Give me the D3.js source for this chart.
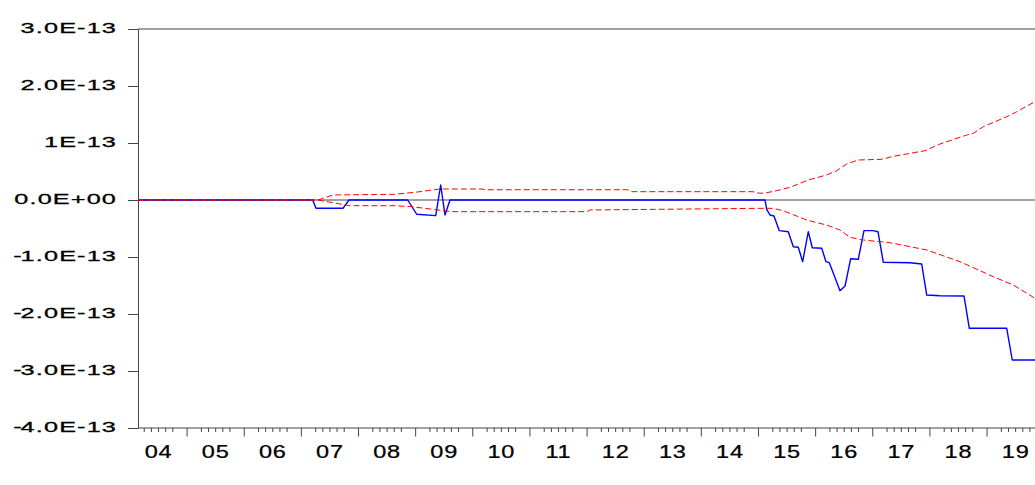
<!DOCTYPE html>
<html>
<head>
<meta charset="utf-8">
<script src="https://cdn.jsdelivr.net/npm/d3@7"></script>
<style>
  html, body { margin: 0; padding: 0; background: #ffffff; overflow: hidden; }
  svg { display: block; }
  text { font-family: "Liberation Sans", Arial, sans-serif; fill: #000; }
</style>
</head>
<body>
<svg id="chart" width="1035" height="485"></svg>
<script>
// ---- data (values in units of 1E-13, time in decimal years) ----
const blueT = [2004.15, 2007.207, 2007.265, 2007.737, 2007.842, 2008.87, 2009.027, 2009.36, 2009.447, 2009.522, 2009.61,
  2015.123, 2015.152, 2015.21, 2015.28, 2015.373, 2015.53, 2015.618, 2015.705, 2015.782, 2015.88, 2015.95, 2016.115,
  2016.19, 2016.248, 2016.435, 2016.523, 2016.622, 2016.755, 2016.855, 2017.013, 2017.1, 2017.193, 2017.66, 2017.865,
  2017.953, 2018.185, 2018.605, 2018.698, 2019.353, 2019.45, 2019.95];
const blueV = [0, 0, -0.146, -0.146, 0, 0, -0.25, -0.275, 0.263, -0.263, 0,
  0, -0.163, -0.263, -0.281, -0.538, -0.556, -0.819, -0.83, -1.082, -0.556, -0.837, -0.847,
  -1.082, -1.1, -1.591, -1.509, -1.03, -1.04, -0.538, -0.538, -0.556, -1.093, -1.1, -1.123,
  -1.667, -1.679, -1.684, -2.251, -2.251, -2.807, -2.807];

const upperT = [2004.15, 2007.3, 2007.56, 2008.645, 2008.995, 2009.435, 2010.17, 2010.223, 2012.72, 2012.79, 2014.91,
  2015.035, 2015.152, 2015.327, 2015.56, 2015.88, 2016.2, 2016.377, 2016.553, 2016.755, 2017.165, 2017.34, 2017.602,
  2017.923, 2018.185, 2018.652, 2018.768, 2018.943, 2019.353, 2019.528, 2019.848];
const upperV = [0, 0, 0.088, 0.10, 0.135, 0.193, 0.193, 0.18, 0.18, 0.146, 0.146,
  0.117, 0.128, 0.163, 0.222, 0.351, 0.439, 0.514, 0.632, 0.702, 0.714, 0.76, 0.807,
  0.865, 0.982, 1.14, 1.17, 1.286, 1.462, 1.549, 1.725];

const lowerT = [2004.15, 2007.3, 2007.86, 2008.645, 2008.94, 2009.4, 2009.64, 2012.007, 2012.06, 2015.035, 2015.263,
  2015.437, 2015.852, 2016.2, 2016.435, 2016.61, 2016.843, 2017.253, 2017.368, 2017.953, 2018.535, 2019.118,
  2019.468, 2019.848];
const lowerV = [0, 0, -0.10, -0.10, -0.117, -0.175, -0.205, -0.205, -0.175, -0.146, -0.146,
  -0.187, -0.351, -0.439, -0.526, -0.654, -0.702, -0.742, -0.76, -0.877, -1.082, -1.345,
  -1.491, -1.725];

const yTickValues = [3, 2, 1, 0, -1, -2, -3, -4];
const yTickLabels = ["3.0E-13", "2.0E-13", "1E-13", "0.0E+00", "-1.0E-13", "-2.0E-13", "-3.0E-13", "-4.0E-13"];
const years = [2004, 2005, 2006, 2007, 2008, 2009, 2010, 2011, 2012, 2013, 2014, 2015, 2016, 2017, 2018, 2019];
const yearLabels = ["04", "05", "06", "07", "08", "09", "10", "11", "12", "13", "14", "15", "16", "17", "18", "19"];

// ---- scales ----
const svg = d3.select("#chart");
const x = d3.scaleLinear().domain([2004, 2020]).range([129.45, 1043.7]);
const y = d3.scaleLinear().domain([-4, 3]).range([428, 29]);
const x0 = x(2004.15), x1 = x(2020);
const axisColor = "#444";

// top frame line
svg.append("line").attr("x1", x0).attr("x2", x1).attr("y1", y(3)).attr("y2", y(3))
  .attr("stroke", axisColor).attr("stroke-width", 1);

// zero line
svg.append("line").attr("x1", x0).attr("x2", x1).attr("y1", y(0)).attr("y2", y(0))
  .attr("stroke", axisColor).attr("stroke-width", 1);

// ---- Y axis ----
const yAxis = svg.append("g").attr("transform", `translate(${x0},0)`)
  .call(d3.axisLeft(y).tickValues(yTickValues).tickFormat((d, i) => yTickLabels[i]).tickSize(10).tickSizeOuter(0));
yAxis.select(".domain").attr("stroke", axisColor);
yAxis.selectAll(".tick line").attr("stroke", axisColor);
yAxis.selectAll(".tick text")
  .attr("x", 0).attr("dy", null)
  .attr("transform", "translate(-21,3.3) scale(1.63,1)")
  .style("font-size", "15.5px").style("letter-spacing", "0.7px")
  .attr("stroke", "#000").attr("stroke-width", 0.3)
  .attr("text-anchor", "end").attr("fill", "#000")
  .each(function () {
    const t = d3.select(this);
    const s = t.text();
    if (s.startsWith("-")) {
      t.text(null);
      t.append("tspan").style("letter-spacing", "-0.6px").text("-");
      t.append("tspan").text(s.slice(1));
    }
  });

// ---- X axis ----
const minorTicks = [];
years.forEach(yr => { for (let k = 2; k <= 6; k++) minorTicks.push(yr + k / 8); });
const xMinor = svg.append("g").attr("transform", `translate(0,${y(-4)})`)
  .call(d3.axisBottom(x).tickValues(minorTicks).tickFormat("").tickSize(4).tickSizeOuter(0));
xMinor.select(".domain").remove();
xMinor.selectAll(".tick line").attr("stroke", axisColor);

const xMajor = svg.append("g").attr("transform", `translate(0,${y(-4)})`)
  .call(d3.axisBottom(x).tickValues(years.slice(1)).tickFormat("").tickSize(8.5).tickSizeOuter(0));
xMajor.select(".domain").remove();
xMajor.selectAll(".tick line").attr("stroke", axisColor);

svg.append("line").attr("x1", x0).attr("x2", x1).attr("y1", y(-4)).attr("y2", y(-4))
  .attr("stroke", axisColor).attr("stroke-width", 1);

const xLab = svg.append("g").attr("transform", `translate(0,${y(-4)})`)
  .call(d3.axisBottom(x).tickValues(years.map(d => d + 0.5)).tickFormat((d, i) => yearLabels[i]).tickSize(0).tickSizeOuter(0));
xLab.select(".domain").remove();
xLab.selectAll(".tick text")
  .attr("y", 0).attr("dy", null)
  .attr("transform", "translate(0,30.3) scale(1.33,1)")
  .style("font-size", "17.7px").style("letter-spacing", "0.6px")
  .attr("stroke", "#000").attr("stroke-width", 0.25)
  .attr("text-anchor", "middle").attr("fill", "#000");

// ---- lines ----
const line = d3.line().x(d => x(d[0])).y(d => y(d[1]));
const blue = blueT.map((t, i) => [t, blueV[i]]);
const upper = upperT.map((t, i) => [t, upperV[i]]);
const lower = lowerT.map((t, i) => [t, lowerV[i]]);

svg.append("path").datum(blue).attr("d", line)
  .attr("fill", "none").attr("stroke", "#0000ff").attr("stroke-width", 1.4).attr("stroke-linejoin", "round");

[upper, lower].forEach(s => {
  svg.append("path").datum(s).attr("d", line)
    .attr("fill", "none").attr("stroke", "#ff0000").attr("stroke-width", 1)
    .attr("stroke-dasharray", "6,3");
});
</script>
</body>
</html>
